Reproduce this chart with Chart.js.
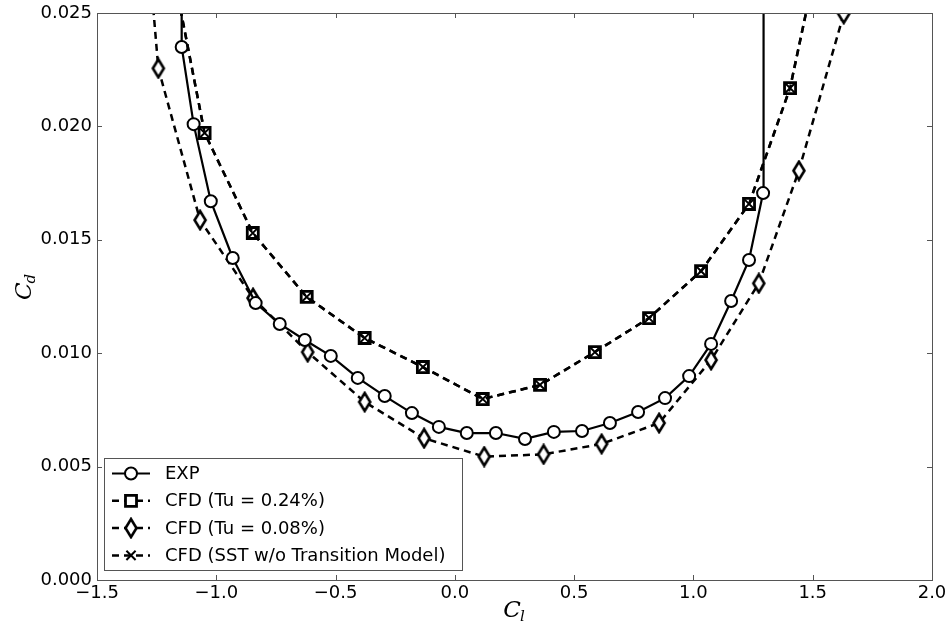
<!DOCTYPE html>
<html lang="en">
<head>
<meta charset="UTF-8">
<title>Cd - Cl polar</title>
<script src="https://cdn.jsdelivr.net/npm/chart.js"></script>
<style>
  html, body { margin: 0; padding: 0; background: #fff; }
</style>
</head>
<body>
<canvas id="polar" width="950" height="629"></canvas>
<script>
  // drag polar: experiment vs. CFD runs
  // (first/last entries of each run sit above 0.025, past stall)
  const expCl = [-1.147, -1.145, -1.095, -1.023, -0.931, -0.835, -0.734, -0.629, -0.520, -0.407, -0.294, -0.180, -0.067,
                 0.050, 0.172, 0.294, 0.415, 0.533, 0.650, 0.768, 0.881, 0.982, 1.074, 1.158, 1.233, 1.292, 1.294];
  const expCd = [0.0400, 0.0235, 0.0201, 0.0167, 0.0142, 0.01221, 0.01129, 0.01058, 0.00988, 0.00891, 0.00811, 0.00736, 0.00675,
                 0.00648, 0.00648, 0.00622, 0.00653, 0.00657, 0.00692, 0.00741, 0.00802, 0.00899, 0.01041, 0.01230, 0.01411, 0.01706, 0.0400];

  const tu024Cl = [-1.160, -1.049, -0.847, -0.621, -0.378, -0.134, 0.117, 0.357, 0.587, 0.814, 1.032, 1.233, 1.405, 1.500];
  const tu024Cd = [0.0257, 0.01971, 0.01530, 0.01248, 0.01067, 0.00939, 0.00798, 0.00860, 0.01005, 0.01155, 0.01362, 0.01658, 0.02169, 0.0264];

  const tu008Cl = [-1.277, -1.243, -1.068, -0.846, -0.617, -0.378, -0.129, 0.123, 0.372, 0.615, 0.856, 1.074, 1.274, 1.442, 1.630, 1.700];
  const tu008Cd = [0.0268, 0.02256, 0.01587, 0.01243, 0.01005, 0.00785, 0.00625, 0.00544, 0.00554, 0.00600, 0.00692, 0.00970, 0.01308, 0.01805, 0.02496, 0.0280];

  const sstCl = [-1.160, -1.049, -0.847, -0.621, -0.378, -0.134, 0.117, 0.357, 0.587, 0.814, 1.032, 1.233, 1.405, 1.500];
  const sstCd = [0.0257, 0.01971, 0.01530, 0.01248, 0.01067, 0.00939, 0.00798, 0.00860, 0.01005, 0.01155, 0.01362, 0.01658, 0.02169, 0.0264];

  const labels = ['EXP', 'CFD (Tu = 0.24%)', 'CFD (Tu = 0.08%)', 'CFD (SST w/o Transition Model)'];

  const xTicks = { min: -1.5, max: 2.0, step: 0.5 };
  const yTicks = { min: 0, max: 0.025, step: 0.005 };

  const pts = (xs, ys) => xs.map((x, i) => ({ x: x, y: ys[i] }));

  // narrow diamond marker (matplotlib 'd')
  function thinDiamond() {
    const c = document.createElement('canvas');
    c.width = 16; c.height = 22;
    const g = c.getContext('2d');
    g.beginPath();
    g.moveTo(8, 2); g.lineTo(13.5, 11); g.lineTo(8, 20); g.lineTo(2.5, 11); g.closePath();
    g.fillStyle = '#fff'; g.fill();
    g.lineWidth = 2.6; g.strokeStyle = '#000'; g.stroke();
    return c;
  }
  const diamond = thinDiamond();

  const DASH = [7, 5];

  const datasets = [
    {
      label: labels[3], data: pts(sstCl, sstCd), order: 0,
      borderColor: '#000', borderWidth: 2.5, borderDash: DASH,
      pointStyle: 'crossRot', pointRadius: 6.5, pointBorderWidth: 2, pointBorderColor: '#000'
    },
    {
      label: labels[1], data: pts(tu024Cl, tu024Cd), order: 1,
      borderColor: '#000', borderWidth: 2.5, borderDash: DASH,
      pointStyle: 'rect', pointRadius: 7.8, pointBorderWidth: 2.8, pointBorderColor: '#000', pointBackgroundColor: '#fff'
    },
    {
      label: labels[0], data: pts(expCl, expCd), order: 2,
      borderColor: '#000', borderWidth: 2.2,
      pointStyle: 'circle', pointRadius: 6, pointBorderWidth: 2, pointBorderColor: '#000', pointBackgroundColor: '#fff'
    },
    {
      label: labels[2], data: pts(tu008Cl, tu008Cd), order: 3,
      borderColor: '#000', borderWidth: 2.5, borderDash: DASH,
      pointStyle: diamond, pointRadius: 7, pointBorderColor: '#000', pointBackgroundColor: '#fff'
    }
  ];

  // frame around the axes plus inward tick marks on all four sides
  const frameTicks = {
    id: 'frameTicks',
    afterDatasetsDraw(chart) {
      const { ctx, chartArea: a, scales } = chart;
      ctx.save();
      ctx.strokeStyle = '#555';
      ctx.lineWidth = 1;
      ctx.beginPath();
      scales.x.ticks.forEach(t => {
        const px = Math.round(scales.x.getPixelForValue(t.value)) + 0.5;
        ctx.moveTo(px, a.bottom); ctx.lineTo(px, a.bottom - 5);
        ctx.moveTo(px, a.top); ctx.lineTo(px, a.top + 5);
      });
      scales.y.ticks.forEach(t => {
        const py = Math.round(scales.y.getPixelForValue(t.value)) + 0.5;
        ctx.moveTo(a.left, py); ctx.lineTo(a.left + 5, py);
        ctx.moveTo(a.right, py); ctx.lineTo(a.right - 5, py);
      });
      ctx.stroke();
      ctx.strokeRect(a.left + 0.5, a.top + 0.5, a.right - a.left, a.bottom - a.top);
      ctx.restore();
    }
  };

  // C_d / C_l axis titles with subscripts
  const axisTitles = {
    id: 'axisTitles',
    afterDraw(chart) {
      const { ctx, chartArea: a } = chart;
      const big = 'italic 23px "DejaVu Serif", "Liberation Serif", serif';
      const small = 'italic 15px "DejaVu Serif", "Liberation Serif", serif';
      const title = (main, sub, cx, cy, rot) => {
        ctx.save();
        ctx.translate(cx, cy);
        ctx.rotate(rot);
        ctx.fillStyle = '#000';
        ctx.textBaseline = 'alphabetic';
        ctx.font = big;
        const w1 = ctx.measureText(main).width;
        ctx.font = small;
        const w2 = ctx.measureText(sub).width;
        const x0 = -(w1 + w2) / 2;
        ctx.font = big;
        ctx.fillText(main, x0, 7);
        ctx.font = small;
        ctx.fillText(sub, x0 + w1 - 1, 11);
        ctx.restore();
      };
      title('C', 'l', (a.left + a.right) / 2, 610, 0);
      title('C', 'd', 24, (a.top + a.bottom) / 2 - 10, -Math.PI / 2);
    }
  };

  // matplotlib-style legend: line sample with the marker in the middle
  const boxLegend = {
    id: 'boxLegend',
    afterDraw(chart) {
      const { ctx } = chart;
      const bx = 104.5, by = 458.5, bw = 358, bh = 112;
      ctx.save();
      ctx.fillStyle = '#fff';
      ctx.fillRect(bx, by, bw, bh);
      ctx.strokeStyle = '#555';
      ctx.lineWidth = 1;
      ctx.strokeRect(bx, by, bw, bh);
      const rows = [datasets[2], datasets[1], datasets[3], datasets[0]];
      rows.forEach((ds, i) => {
        const y = 473.5 + i * 27.3;
        ctx.save();
        ctx.strokeStyle = '#000';
        ctx.lineWidth = ds.borderWidth;
        ctx.setLineDash(ds.borderDash || []);
        ctx.beginPath();
        ctx.moveTo(112, y); ctx.lineTo(150, y);
        ctx.stroke();
        ctx.restore();
        ctx.save();
        ctx.strokeStyle = '#000';
        ctx.fillStyle = '#fff';
        ctx.lineWidth = ds.pointBorderWidth || 2;
        Chart.helpers.drawPoint(ctx, {
          pointStyle: ds.pointStyle, radius: ds.pointRadius, rotation: 0, borderWidth: ds.pointBorderWidth || 2
        }, 131, y);
        ctx.restore();
        ctx.fillStyle = '#000';
        ctx.font = '18px "DejaVu Sans", sans-serif';
        ctx.textBaseline = 'middle';
        ctx.fillText(ds.label, 165, y + 1);
      });
      ctx.restore();
    }
  };

  new Chart(document.getElementById('polar'), {
    type: 'line',
    data: { datasets },
    options: {
      responsive: false,
      devicePixelRatio: 1,
      animation: false,
      layout: { padding: { top: 13, right: 18, left: 0, bottom: 0 } },
      elements: { line: { tension: 0 } },
      plugins: { legend: { display: false }, tooltip: { enabled: false } },
      scales: {
        x: {
          type: 'linear', min: xTicks.min, max: xTicks.max,
          grid: { display: false, drawTicks: false },
          border: { display: false },
          afterFit: s => { s.height = 49; s.paddingLeft = 0; s.paddingRight = 0; },
          ticks: {
            stepSize: xTicks.step, padding: 3, color: '#000',
            font: { family: 'DejaVu Sans', size: 18 },
            maxRotation: 0,
            callback: v => v.toFixed(1).replace('-', '\u2212')
          }
        },
        y: {
          type: 'linear', min: yTicks.min, max: yTicks.max,
          grid: { display: false, drawTicks: false },
          border: { display: false },
          afterFit: s => { s.width = 97; s.paddingTop = 0; s.paddingBottom = 0; },
          ticks: {
            stepSize: yTicks.step, padding: 5, color: '#000',
            font: { family: 'DejaVu Sans', size: 18 },
            callback: v => v.toFixed(3)
          }
        }
      }
    },
    plugins: [frameTicks, axisTitles, boxLegend]
  });
</script>
</body>
</html>
